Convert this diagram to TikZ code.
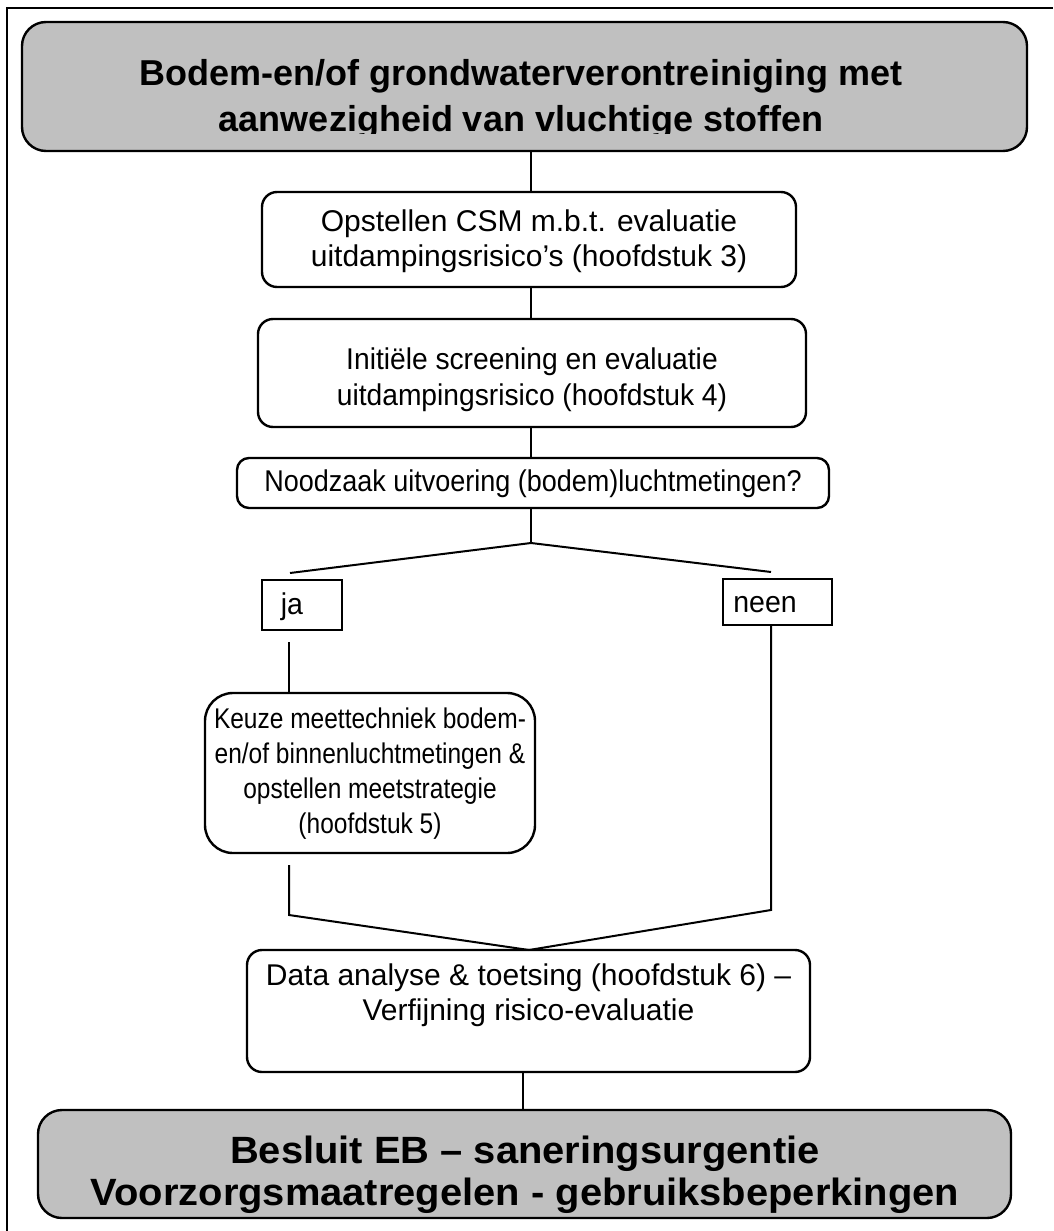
\documentclass[tikz,border=0pt]{standalone}
\usepackage{fontspec}
\setmainfont{Liberation Sans}
\newfontfamily\fontC[FakeStretch=0.94]{Liberation Sans}
\newfontfamily\fontD[FakeStretch=0.9]{Liberation Sans}
\newfontfamily\fontE[FakeStretch=0.86]{Liberation Sans}
\newfontfamily\fontTag[FakeStretch=0.95]{Liberation Sans}
\newfontfamily\fontEnd[FakeStretch=1.05]{Liberation Sans}
\definecolor{boxgray}{HTML}{C0C0C0}
\begin{document}
\begin{tikzpicture}[x=1pt,y=-1pt,
  box/.style={draw, line width=2.4pt, rounded corners=15pt, fill=white, inner sep=0pt},
  graybox/.style={box, fill=boxgray, rounded corners=24pt},
  tagbox/.style={draw, line width=2.2pt, fill=white, inner sep=0pt},
  wire/.style={line width=2pt},
  body/.style={font=\fontsize{30}{35}\selectfont, align=center, inner sep=0pt},
  head/.style={font=\bfseries\fontsize{36}{46}\selectfont, align=center, inner sep=0pt},
  foot/.style={font=\fontEnd\bfseries\fontsize{38}{42}\selectfont, align=center, inner sep=0pt}]
\useasboundingbox (0,0) rectangle (1053,1231);
% page frame
\draw[line width=1.5pt] (7,1231) -- (7,8) -- (1053,8);

% title box, text clipped just below the second baseline
\node[graybox, minimum width=1005, minimum height=129] (top) at (524.5,86.5) {};
\begin{scope}
  \clip (22,22) rectangle (1027,133);
  \node[head] (toptext) at (521,99) {Bodem-en/of grondwaterverontreiniging met\\aanwezigheid van vluchtige stoffen};
\end{scope}

% steps
\node[box, minimum width=534, minimum height=95] (csm) at (529,239.5) {};
\node[body] (csmtext) at (529,241)
  {Opstellen CSM m.b.t. evaluatie\\uitdampingsrisico’s (hoofdstuk 3)};
\node[box, minimum width=548, minimum height=108] (screen) at (532,373) {};
\node[body, font=\fontC\fontsize{30}{36}\selectfont] (screentext) at (532,380)
  {Initiële screening en evaluatie\\uitdampingsrisico (hoofdstuk 4)};
\node[box, minimum width=592, minimum height=50, rounded corners=12pt] (need) at (533,483) {};
\node[body, font=\fontD\fontsize{30}{35}\selectfont] (needtext) at (533,484)
  {Noodzaak uitvoering (bodem)luchtmetingen?};

\node[tagbox, minimum width=80, minimum height=50] (ja) at (302,605) {};
\node[body, font=\fontTag\fontsize{30}{35}\selectfont] (jatext) at (292,607) {ja};
\node[tagbox, minimum width=109, minimum height=46] (neen) at (777.5,602) {};
\node[body, font=\fontTag\fontsize{30}{35}\selectfont] (neentext) at (765,605) {neen};

\node[box, minimum width=330, minimum height=160, rounded corners=28pt] (meet) at (370,773) {};
\node[body, font=\fontE\fontsize{28.5}{35}\selectfont] (meettext) at (370,774)
  {Keuze meettechniek bodem-\\en/of binnenluchtmetingen \&\\opstellen meetstrategie\\(hoofdstuk 5)};

\node[box, minimum width=563, minimum height=122] (data) at (528.5,1011) {};
\node[body] (datatext) at (528.5,995)
  {Data analyse \& toetsing (hoofdstuk 6) –\\Verfijning risico-evaluatie};

\node[graybox, minimum width=973, minimum height=108] (end) at (524.5,1164) {};
\node[foot] (endtext) at (525,1175)
  {Besluit EB – saneringsurgentie\\Voorzorgsmaatregelen - gebruiksbeperkingen};

% connector points
\coordinate (spine) at (531,0);
\coordinate (split) at (531,543);
\coordinate (jaend) at (290,573);
\coordinate (neenend) at (771,572);
\coordinate (jatop) at (289,642);
\coordinate (meetlow) at (289,865);
\coordinate (meetbend) at (289,915);
\coordinate (neenbend) at (771,910);
\coordinate (join) at (529,950);
\coordinate (lowspine) at (523,0);

% connectors
\draw[wire] (top.south -| spine) -- (csm.north -| spine);
\draw[wire] (csm.south -| spine) -- (screen.north -| spine);
\draw[wire] (screen.south -| spine) -- (need.north -| spine);
\draw[wire] (need.south -| spine) -- (split);
\draw[wire] (jaend) -- (split) -- (neenend);
\draw[wire] (jatop) -- (meet.north -| jatop);
\draw[wire] (neen.south -| neenend) -- (neenbend) -- (join);
\draw[wire] (meetlow) -- (meetbend) -- (join);
\draw[wire] (data.south -| lowspine) -- (end.north -| lowspine);
\end{tikzpicture}
\end{document}
